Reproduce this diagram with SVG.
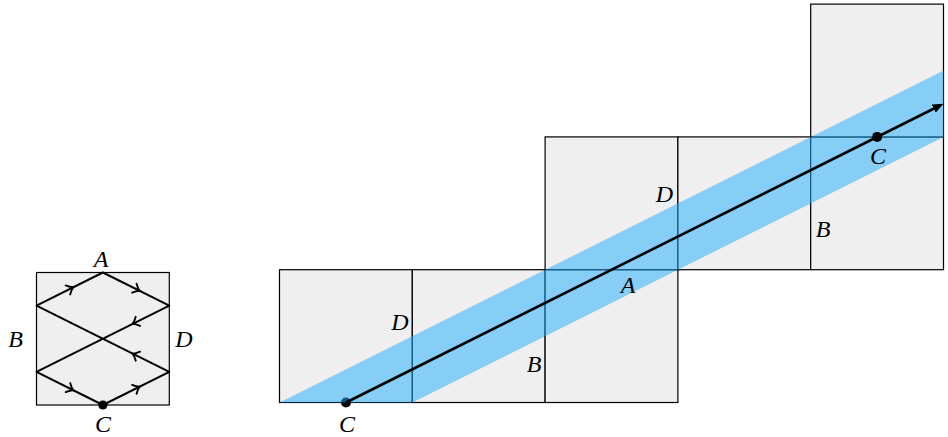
<svg xmlns="http://www.w3.org/2000/svg" width="948" height="437" viewBox="0 0 948 437">
<style>
.sq{fill:#efefef;stroke:#000;stroke-width:1.2}
.lbl{font-family:"Liberation Serif","DejaVu Serif",serif;font-style:italic;font-size:24px;fill:#000;text-anchor:middle}
.path{fill:none;stroke:#000;stroke-width:2;stroke-linejoin:round}
.arr{fill:none;stroke:none;marker-end:url(#to)}
.main{fill:none;stroke:#000;stroke-width:2.6;marker-end:url(#tri)}
.band{fill:#1fadff;fill-opacity:0.5}
</style>
<defs>
<marker id="to" viewBox="-7 -7 10 14" refX="0" refY="0" markerWidth="10" markerHeight="14" markerUnits="userSpaceOnUse" orient="auto">
<path d="M-5,-5 Q-1.5,-1 1,0 Q-1.5,1 -5,5" fill="none" stroke="#000" stroke-width="1.9" stroke-linecap="round"/>
</marker>
<marker id="tri" viewBox="0 -5 12 10" refX="1" refY="0" markerWidth="12" markerHeight="10" markerUnits="userSpaceOnUse" orient="auto">
<path d="M0,-4.5 L11,0 L0,4.5 z" fill="#000"/>
</marker>
</defs>

<!-- Left small figure -->
<g id="small-square">
<rect class="sq" x="36.5" y="272.5" width="132.8" height="132.5"/>
</g>
<g id="small-connectors">
<path class="path" d="M102.9,405 L169.3,371.9 L36.5,305.6 L102.9,272.5 L169.3,305.6 L36.5,371.9 Z"/>
<path class="arr" d="M133.4,389.8 L138.8,387.1"/>
<path class="arr" d="M138.8,356.6 L133.4,354.0"/>
<path class="arr" d="M67.0,290.4 L72.4,287.7"/>
<path class="arr" d="M133.4,287.7 L138.8,290.4"/>
<path class="arr" d="M138.8,320.9 L133.4,323.5"/>
<path class="arr" d="M67.0,387.1 L72.4,389.8"/>
<circle cx="102.9" cy="405" r="4.6" fill="#000"/>
</g>
<g id="small-labels">
<text class="lbl" x="101" y="267">A</text>
<text class="lbl" x="15.5" y="347">B</text>
<text class="lbl" x="184" y="347">D</text>
<text class="lbl" x="103" y="432">C</text>
</g>

<!-- Unfolded squares -->
<g id="sq1"><rect class="sq" x="279.5" y="269.7" width="132.8" height="132.8"/></g>
<g id="sq2"><rect class="sq" x="412.3" y="269.7" width="132.8" height="132.8"/></g>
<g id="sq3"><rect class="sq" x="545.1" y="269.7" width="132.8" height="132.8"/></g>
<g id="sq4"><rect class="sq" x="545.1" y="136.9" width="132.8" height="132.8"/></g>
<g id="sq5"><rect class="sq" x="677.9" y="136.9" width="132.8" height="132.8"/></g>
<g id="sq6"><rect class="sq" x="810.7" y="136.9" width="132.8" height="132.8"/></g>
<g id="sq7"><rect class="sq" x="810.7" y="4.1" width="132.8" height="132.8"/></g>

<g id="start-point"><circle cx="346" cy="402.5" r="5" fill="#000"/></g>

<g id="band"><polygon class="band" points="279.5,402.5 943.5,70.5 943.5,136.9 412.3,402.5"/></g>

<g id="connectors">
<path class="main" d="M346,402.5 L934.56,108.22"/>
</g>
<g id="end-point"><circle cx="877.2" cy="136.9" r="5" fill="#000"/></g>

<g id="labels">
<text class="lbl" x="347" y="432">C</text>
<text class="lbl" x="400" y="330">D</text>
<text class="lbl" x="534" y="372">B</text>
<text class="lbl" x="628" y="292.5">A</text>
<text class="lbl" x="664.5" y="202">D</text>
<text class="lbl" x="823" y="237">B</text>
<text class="lbl" x="878" y="164">C</text>
</g>
</svg>
